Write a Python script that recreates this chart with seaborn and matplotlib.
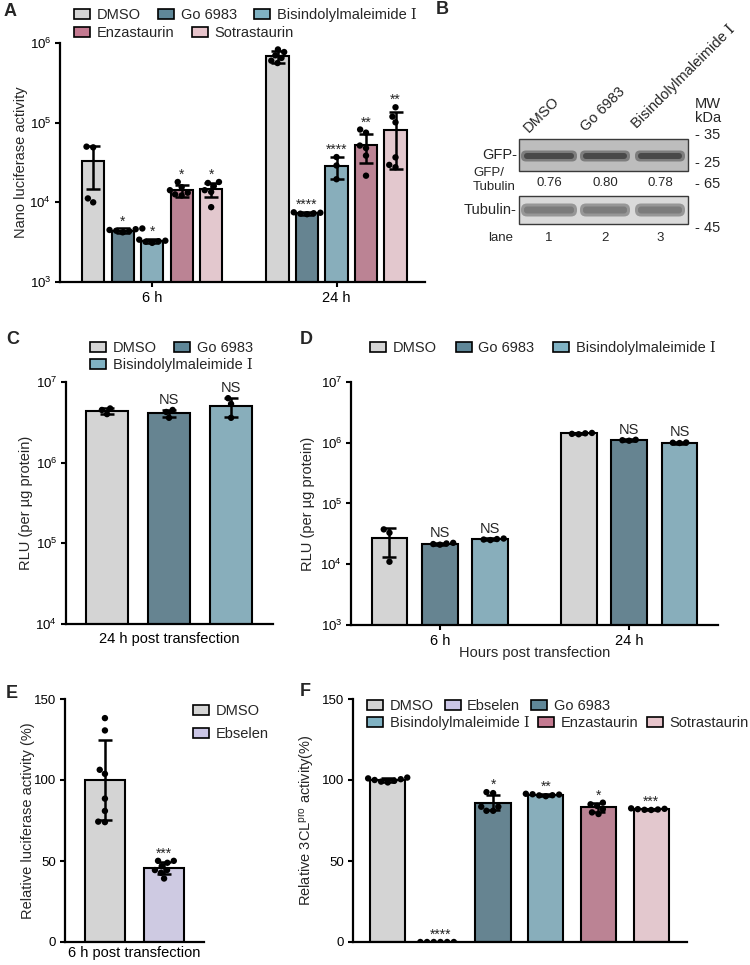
import numpy as np
import pandas as pd
import matplotlib
matplotlib.use("Agg")
import matplotlib.pyplot as plt
import seaborn as sns
from matplotlib.patches import Patch, Rectangle, FancyBboxPatch
from matplotlib.ticker import NullLocator

W, H = 750, 965

BIS = "Bisindolylmaleimide \u2160"
colors = {"DMSO": "#d4d4d4", "Go 6983": "#5f8798", BIS: "#80b2c3",
          "Enzastaurin": "#c47a91", "Sotrastaurin": "#e7c4cb", "Ebselen": "#cbc6e6"}

# ---- panel A: nano luciferase activity (6 h / 24 h)
a_drugs = ["DMSO", "Go 6983", BIS, "Enzastaurin", "Sotrastaurin"]
a_times = ["6 h", "24 h"]
a_mean_6h = [32700, 4400, 3250, 14200, 14600]
a_sd_6h = [18000, 300, 200, 2400, 3100]
a_mean_24h = [680000, 7300, 28500, 52000, 81000]
a_sd_24h = [120000, 300, 9000, 21000, 55000]
a_pts_6h = [[49000, 50000, 10000, 11200],
            [4200, 4350, 4500, 4600, 4700, 4400],
            [3100, 3200, 3300, 3400, 3250],
            [18000, 15500, 14200, 13200, 12600, 12200],
            [18000, 17500, 16000, 14200, 13500, 8700]]
a_pts_24h = [[770000, 830000, 560000, 650000, 600000, 700000],
             [7100, 7200, 7300, 7400, 7500],
             [37000, 29000, 19500],
             [82000, 75000, 51600, 38600, 21600, 48000],
             [156000, 101000, 119000, 36700, 29500, 27600]]
a_marks_6h = ["", "*", "*", "*", "*"]
a_marks_24h = ["", "****", "****", "**", "**"]

# ---- panel B: western blot
b_lanes = ["DMSO", "Go 6983", BIS]
b_ratio = ["0.76", "0.80", "0.78"]
b_mw = ["35", "25", "65", "45"]

# ---- panel C: RLU, 24 h post transfection
c_drugs = ["DMSO", "Go 6983", BIS]
c_cat = ["24 h post transfection"]
c_mean = [4.4e6, 4.1e6, 5.05e6]
c_sd = [0.35e6, 0.45e6, 1.35e6]
c_pts = [[4.7e6, 4.5e6, 4.0e6], [4.5e6, 4.25e6, 3.6e6], [6.3e6, 5.35e6, 3.6e6]]
c_marks = ["", "NS", "NS"]

# ---- panel D: RLU by hours post transfection
d_drugs = ["DMSO", "Go 6983", BIS]
d_times = ["6 h", "24 h"]
d_mean_6h = [26600, 21800, 25700]
d_sd_6h = [13400, 900, 1000]
d_mean_24h = [1.42e6, 1.10e6, 1.0e6]
d_sd_24h = [0.05e6, 0.04e6, 0.03e6]
d_pts_6h = [[37500, 33000, 11000], [21000, 22000, 22500, 21500], [25000, 26000, 26500, 25500]]
d_pts_24h = [[1.38e6, 1.45e6, 1.43e6, 1.40e6], [1.08e6, 1.12e6, 1.10e6], [0.99e6, 1.01e6, 1.0e6]]
d_marks_6h = ["", "NS", "NS"]
d_marks_24h = ["", "NS", "NS"]

# ---- panel E: relative luciferase activity
e_drugs = ["DMSO", "Ebselen"]
e_cat = ["6 h post transfection"]
e_mean = [100, 45.6]
e_sd = [24.5, 3.8]
e_pts = [[138.2, 130.6, 106.3, 103.8, 88.5, 80.9, 74.3, 74.0],
         [50.1, 50.1, 48.9, 46.8, 44.4, 44.4, 42.7, 39.2]]
e_marks = ["", "***"]

# ---- panel F: relative 3CLpro activity
f_drugs = ["DMSO", "Ebselen", "Go 6983", BIS, "Enzastaurin", "Sotrastaurin"]
f_mean = [100, 0, 86, 90.8, 83.2, 81.9]
f_sd = [1.0, 0, 4.5, 0.8, 2.8, 0.5]
f_pts = [[101.5, 99.5, 100.5, 98.5, 100, 101, 99],
         [0, 0, 0, 0, 0, 0],
         [92.5, 91.9, 83.5, 83.5, 81, 81],
         [91.5, 90.5, 91, 90, 91.2, 90.6],
         [86, 85, 84, 82, 80, 79],
         [82.5, 81.5, 82, 81.8, 81.6, 82.2]]
f_marks = ["", "****", "*", "**", "*", "***"]


def make_frames(cats, hues, means, sds, pts, marks):
    # means etc. are lists per category, each a list over hues
    bars, dots = [], []
    for ci, c in enumerate(cats):
        for hi, h in enumerate(hues):
            bars.append({"cat": c, "hue": h, "mean": means[ci][hi], "sd": sds[ci][hi],
                         "mark": marks[ci][hi], "top": max(means[ci][hi] + sds[ci][hi], max(pts[ci][hi]))})
            for v in pts[ci][hi]:
                dots.append({"cat": c, "hue": h, "val": v})
    return pd.DataFrame(bars), pd.DataFrame(dots)


sns.set_theme(style="ticks")
plt.rcParams["font.family"] = ["Liberation Sans", "DejaVu Serif"]
plt.rcParams["mathtext.fontset"] = "custom"
plt.rcParams["mathtext.rm"] = "Liberation Sans"
plt.rcParams["mathtext.it"] = "Liberation Sans:italic"
plt.rcParams["mathtext.bf"] = "Liberation Sans:bold"
FS = 10.5

fig = plt.figure(figsize=(W / 100, H / 100), dpi=100)


def px_axes(left, top, right, bottom):
    return fig.add_axes([left / W, 1 - bottom / H, (right - left) / W, (bottom - top) / H])


def draw_bars(ax, bars, dots, cats, hues, log, width, gap, dodge, mark_fs=10):
    scale = (False, True) if log else None
    sns.barplot(data=bars, x="cat", y="mean", hue="hue", order=cats, hue_order=hues,
                palette=colors, width=width, gap=gap, dodge=dodge, errorbar=None,
                edgecolor="black", linewidth=1.5, legend=False, log_scale=scale, ax=ax)
    rects = sorted([r for c in ax.containers for r in c], key=lambda r: r.get_x())
    if log:
        # bars on a log axis: start them below the visible range
        for r, m in zip(rects, bars["mean"]):
            r.set_y(1e-2)
            r.set_height(m - 1e-2)
    xs = np.array([r.get_x() + r.get_width() / 2 for r in rects])
    keep = bars["sd"].values > 0
    ax.errorbar(xs[keep], bars["mean"].values[keep], yerr=bars["sd"].values[keep], fmt="none",
                ecolor="black", elinewidth=1.8, capsize=5, capthick=1.8, zorder=3)
    sns.swarmplot(data=dots, x="cat", y="val", hue="hue", order=cats, hue_order=hues,
                  palette={h: "black" for h in hues}, dodge=dodge, size=4.6, legend=False,
                  log_scale=scale, warn_thresh=1, zorder=4, ax=ax)
    for x, (_, row) in zip(xs, bars.iterrows()):
        if row["mark"]:
            star = row["mark"].startswith("*")
            ax.annotate(row["mark"], (x, row["top"]), xytext=(0, 0 if star else 2),
                        textcoords="offset points", ha="center", va="bottom",
                        fontsize=mark_fs if star else FS)


def style(ax, label_x):
    sns.despine(ax=ax)
    for s in ("left", "bottom"):
        ax.spines[s].set_linewidth(1.6)
        ax.spines[s].set_color("black")
    ax.tick_params(width=1.5, length=3.8, pad=2.5, color="black", labelcolor="black")
    ax.tick_params(axis="x", labelsize=FS)
    ax.tick_params(axis="y", labelsize=9.5)
    ax.yaxis.label.set_size(FS)
    ax.xaxis.label.set_size(FS)
    # place the y label at a pixel column of the figure
    x0 = ax.get_position().x0 * W
    w = ax.get_position().width * W
    ax.yaxis.set_label_coords((label_x - x0) / w, 0.5)


def legend_row(labels, x, y, spacing=1.2):
    handles = [Patch(facecolor=colors[l], edgecolor="black", linewidth=1.2, label=l) for l in labels]
    fig.legend(handles=handles, loc="center left", bbox_to_anchor=(x / W, 1 - y / H),
               ncol=len(labels), frameon=False, fontsize=FS, handlelength=1.1,
               handleheight=0.75, handletextpad=0.45, columnspacing=spacing,
               borderpad=0, borderaxespad=0)


def letter(t, x, y):
    fig.text(x / W, 1 - y / H, t, fontsize=13, fontweight="bold", ha="left", va="center")


# ---------------- A
axA = px_axes(60, 43, 425, 282)
barsA, dotsA = make_frames(a_times, a_drugs, [a_mean_6h, a_mean_24h], [a_sd_6h, a_sd_24h],
                           [a_pts_6h, a_pts_24h], [a_marks_6h, a_marks_24h])
draw_bars(axA, barsA, dotsA, a_times, a_drugs, True, 0.8, 0.25, True)
axA.set_ylim(1e3, 1e6)
axA.set_yticks([1e3, 1e4, 1e5, 1e6])
axA.yaxis.set_minor_locator(NullLocator())
axA.set_xlim(-0.5, 1.48)
axA.set_xlabel("")
axA.set_ylabel("Nano luciferase activity")
style(axA, 28)
legend_row(a_drugs[:3], 74, 15)
legend_row(a_drugs[3:], 74, 33)
letter("A", 4, 12)

# ---------------- B (blot drawn in pixel coordinates)
axB = px_axes(430, 0, 750, 290)
axB.set_xlim(430, 750)
axB.set_ylim(290, 0)
axB.axis("off")
lane_x = [549, 605, 660]
lane_span = [(521, 577), (580, 630), (635, 685)]
axB.add_patch(Rectangle((519, 139), 169, 32, facecolor="#bdbdbd", edgecolor="#3a3a3a", lw=1))
axB.add_patch(Rectangle((519, 196), 169, 28, facecolor="#dadada", edgecolor="#3a3a3a", lw=1))
for (x0, x1) in lane_span:
    axB.add_patch(FancyBboxPatch((x0, 150.5), x1 - x0, 11, boxstyle="round,pad=0,rounding_size=5",
                                 facecolor="#6e6e6e", edgecolor="none", alpha=0.8))
    axB.add_patch(FancyBboxPatch((x0 + 3, 153), x1 - x0 - 6, 6, boxstyle="round,pad=0,rounding_size=3",
                                 facecolor="#444444", edgecolor="none", alpha=0.9))
    axB.add_patch(FancyBboxPatch((x0, 203.5), x1 - x0, 13, boxstyle="round,pad=0,rounding_size=6",
                                 facecolor="#8c8c8c", edgecolor="none", alpha=0.85))
    axB.add_patch(FancyBboxPatch((x0 + 3, 206.5), x1 - x0 - 6, 7, boxstyle="round,pad=0,rounding_size=3",
                                 facecolor="#7a7a7a", edgecolor="none", alpha=0.9))
label_anchor = [(529, 133), (586, 132), (637, 129)]
for (x, y), t in zip(label_anchor, b_lanes):
    axB.text(x, y, t, rotation=45, rotation_mode="anchor", ha="left", va="baseline", fontsize=FS)
axB.text(517, 155, "GFP-", ha="right", va="center", fontsize=FS)
axB.text(473, 180, "GFP/\nTubulin", ha="left", va="center", fontsize=9.5, linespacing=1.2)
axB.text(517, 210, "Tubulin-", ha="right", va="center", fontsize=FS)
axB.text(513, 238, "lane", ha="right", va="center", fontsize=9.5)
for x, t in zip(lane_x, b_ratio):
    axB.text(x, 183, t, ha="center", va="center", fontsize=9.5)
for i, x in enumerate(lane_x):
    axB.text(x, 238, str(i + 1), ha="center", va="center", fontsize=9.5)
axB.text(695, 111, "MW\nkDa", ha="left", va="center", fontsize=FS, linespacing=0.95)
for y, t in zip([135, 163, 184, 228], b_mw):
    axB.text(695, y, "- " + t, ha="left", va="center", fontsize=FS)
letter("B", 436, 10)

# ---------------- C
axC = px_axes(66, 382, 273, 624)
barsC, dotsC = make_frames(c_cat, c_drugs, [c_mean], [c_sd], [c_pts], [c_marks])
draw_bars(axC, barsC, dotsC, c_cat, c_drugs, True, 0.8, 0.32, True)
axC.set_ylim(1e4, 1e7)
axC.set_yticks([1e4, 1e5, 1e6, 1e7])
axC.yaxis.set_minor_locator(NullLocator())
axC.set_xlim(-0.443, 0.447)
axC.set_xlabel("")
axC.set_ylabel("RLU (per \u00b5g protein)")
style(axC, 33)
axC.tick_params(axis="x", length=0, pad=6)
legend_row(c_drugs[:2], 90, 348)
legend_row(c_drugs[2:], 90, 365)
letter("C", 6, 340)

# ---------------- D
axD = px_axes(351, 382, 718, 625)
barsD, dotsD = make_frames(d_times, d_drugs, [d_mean_6h, d_mean_24h], [d_sd_6h, d_sd_24h],
                           [d_pts_6h, d_pts_24h], [d_marks_6h, d_marks_24h])
draw_bars(axD, barsD, dotsD, d_times, d_drugs, True, 0.8, 0.29, True)
axD.set_ylim(1e3, 1e7)
axD.set_yticks([1e3, 1e4, 1e5, 1e6, 1e7])
axD.yaxis.set_minor_locator(NullLocator())
axD.set_xlim(-0.47, 1.47)
axD.set_xlabel("Hours post transfection", labelpad=-1)
axD.set_ylabel("RLU (per \u00b5g protein)")
style(axD, 315)
legend_row(d_drugs, 370, 348, 1.3)
letter("D", 300, 339)

# ---------------- E
axE = px_axes(65, 699, 204, 942)
barsE, dotsE = make_frames(e_cat, e_drugs, [e_mean], [e_sd], [e_pts], [e_marks])
draw_bars(axE, barsE, dotsE, e_cat, e_drugs, False, 0.8, 0.32, True)
axE.set_ylim(0, 150)
axE.set_yticks([0, 50, 100, 150])
axE.set_xlim(-0.47, 0.47)
axE.set_xlabel("")
axE.set_ylabel("Relative luciferase activity (%)")
style(axE, 35)
axE.tick_params(axis="x", length=0, pad=3)
legend_row(e_drugs[:1], 193, 711)
legend_row(e_drugs[1:], 193, 734)
letter("E", 6, 694)

# ---------------- F
axF = px_axes(353, 699, 687, 942)
barsF = pd.DataFrame({"cat": f_drugs, "hue": f_drugs, "mean": f_mean, "sd": f_sd, "mark": f_marks,
                      "top": [max(m + s, max(p)) for m, s, p in zip(f_mean, f_sd, f_pts)]})
dotsF = pd.DataFrame([{"cat": d, "hue": d, "val": v} for d, p in zip(f_drugs, f_pts) for v in p])
draw_bars(axF, barsF, dotsF, f_drugs, f_drugs, False, 0.67, 0, False)
axF.set_ylim(0, 150)
axF.set_yticks([0, 50, 100, 150])
axF.set_xlim(-0.66, 5.68)
axF.set_xticks([])
axF.set_xlabel("")
axF.set_ylabel("Relative 3CL$^{\\mathrm{pro}}$ activity(%)")
style(axF, 316)
legend_row(["DMSO", "Ebselen", "Go 6983"], 367, 706, 0.75)
legend_row([BIS, "Enzastaurin", "Sotrastaurin"], 367, 723, 0.6)
letter("F", 300, 692)

fig.savefig("out.png", dpi=100)
